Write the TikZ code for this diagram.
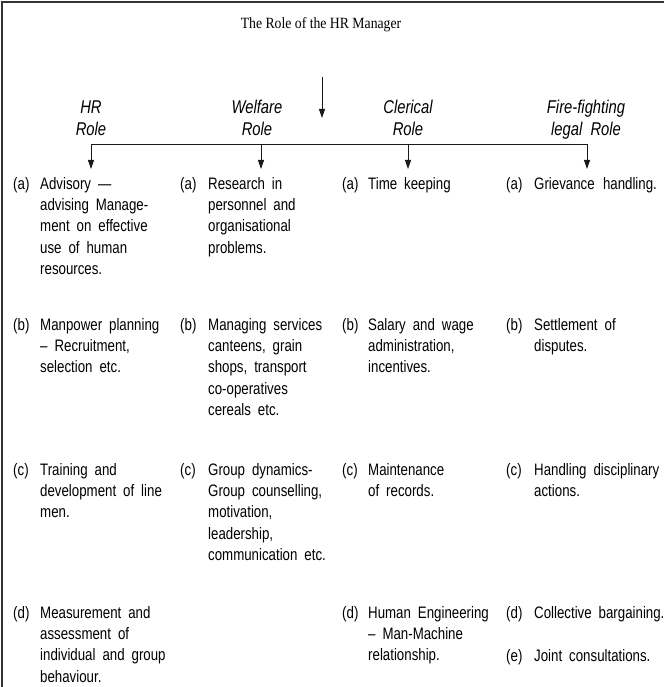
\documentclass[tikz,border=0pt]{standalone}
\usepackage{fontspec}
\setmainfont{Liberation Serif}
\newfontfamily\itemfont[FakeStretch=0.8]{Liberation Sans}
\newfontfamily\titlefont[FakeStretch=0.88]{Liberation Serif}
\usetikzlibrary{arrows.meta}

% multi-line block whose baseline is that of its first line
\newcommand\itemlines[1]{\parbox[t]{170pt}{\fontsize{16.6}{21.4}\selectfont\spaceskip=0.42em\raggedright #1}}
\newcommand\headlines[1]{\parbox[t]{120pt}{\fontsize{18.5}{22}\selectfont\centering #1}}

\begin{document}
\begin{tikzpicture}[x=1pt,y=-1pt,
  frame/.style={line width=1.2pt, black!80},
  link/.style={line width=0.8pt, black!90},
  linkarrow/.style={link, -{Triangle[width=6pt,length=9pt]}},
  heading/.style={inner sep=0, anchor=base, text=black,
    font=\titlefont\fontsize{15.6}{18}\selectfont},
  rolehead/.style={inner sep=0, anchor=base, text=black, font=\itemfont\itshape},
  tag/.style={inner sep=0, anchor=base west, text=black,
    font=\itemfont\fontsize{16.6}{21.4}\selectfont},
  entry/.style={inner sep=0, anchor=base west, text=black, font=\itemfont},
]
\useasboundingbox (0,0) rectangle (664,687);

% open frame: top and left edges only
\draw[frame] (664,2) -- (2,2) -- (2,687);

% title and main arrow
\node[heading] (title) at (321,29) {The Role of the HR Manager};
\coordinate (mainTop) at (322,77);
\coordinate (mainTip) at (322,118);
\draw[linkarrow] (mainTop) -- (mainTip);

% role headings
\node[rolehead] (hr)      at (91,114)  {\headlines{HR\\Role}};
\node[rolehead] (welfare) at (257,114) {\headlines{Welfare\\Role}};
\node[rolehead] (clerk)   at (408,114) {\headlines{Clerical\\Role}};
\node[rolehead] (fire)    at (586,114) {\headlines{Fire-fighting\\legal\ \ Role}};

% distribution bar and drop arrows
\foreach \n/\x in {1/91, 2/261, 3/408, 4/587} {
  \coordinate (bus\n) at (\x,144);
  \coordinate (drop\n) at (\x,169);
}
\draw[link] (bus1) -- (bus4);
\foreach \n in {1,...,4} \draw[linkarrow] (bus\n) -- (drop\n);

% ---- HR role ----
\node[tag]   (hrTa) at (13,189) {(a)};
\node[entry] (hrA)  at (40,189) {\itemlines{Advisory —\\advising Manage-\\ment on effective\\use of human\\resources.}};
\node[tag]   (hrTb) at (13,330) {(b)};
\node[entry] (hrB)  at (40,330) {\itemlines{Manpower planning\\– Recruitment,\\selection etc.}};
\node[tag]   (hrTc) at (13,475) {(c)};
\node[entry] (hrC)  at (40,475) {\itemlines{Training and\\development of line\\men.}};
\node[tag]   (hrTd) at (13,618) {(d)};
\node[entry] (hrD)  at (40,618) {\itemlines{Measurement and\\assessment of\\individual and group\\behaviour.}};

% ---- Welfare role ----
\node[tag]   (wfTa) at (180,189) {(a)};
\node[entry] (wfA)  at (208,189) {\itemlines{Research in\\personnel and\\organisational\\problems.}};
\node[tag]   (wfTb) at (180,330) {(b)};
\node[entry] (wfB)  at (208,330) {\itemlines{Managing services\\canteens, grain\\shops, transport\\co-operatives\\cereals etc.}};
\node[tag]   (wfTc) at (180,475) {(c)};
\node[entry] (wfC)  at (208,475) {\itemlines{Group dynamics-\\Group counselling,\\motivation,\\leadership,\\communication etc.}};

% ---- Clerical role ----
\node[tag]   (clTa) at (342,189) {(a)};
\node[entry] (clA)  at (368,189) {\itemlines{Time keeping}};
\node[tag]   (clTb) at (342,330) {(b)};
\node[entry] (clB)  at (368,330) {\itemlines{Salary and wage\\administration,\\incentives.}};
\node[tag]   (clTc) at (342,475) {(c)};
\node[entry] (clC)  at (368,475) {\itemlines{Maintenance\\of records.}};
\node[tag]   (clTd) at (342,618) {(d)};
\node[entry] (clD)  at (368,618) {\itemlines{Human Engineering\\– Man-Machine\\relationship.}};

% ---- Fire-fighting / legal role ----
\node[tag]   (ffTa) at (506,189) {(a)};
\node[entry] (ffA)  at (534,189) {\itemlines{Grievance\hspace{0.5em}handling.}};
\node[tag]   (ffTb) at (506,330) {(b)};
\node[entry] (ffB)  at (534,330) {\itemlines{Settlement of\\disputes.}};
\node[tag]   (ffTc) at (506,475) {(c)};
\node[entry] (ffC)  at (534,475) {\itemlines{Handling disciplinary\\actions.}};
\node[tag]   (ffTd) at (506,618) {(d)};
\node[entry] (ffD)  at (534,618) {\itemlines{Collective bargaining.}};
\node[tag]   (ffTe) at (506,661) {(e)};
\node[entry] (ffE)  at (534,661) {\itemlines{Joint consultations.}};
\end{tikzpicture}
\end{document}
